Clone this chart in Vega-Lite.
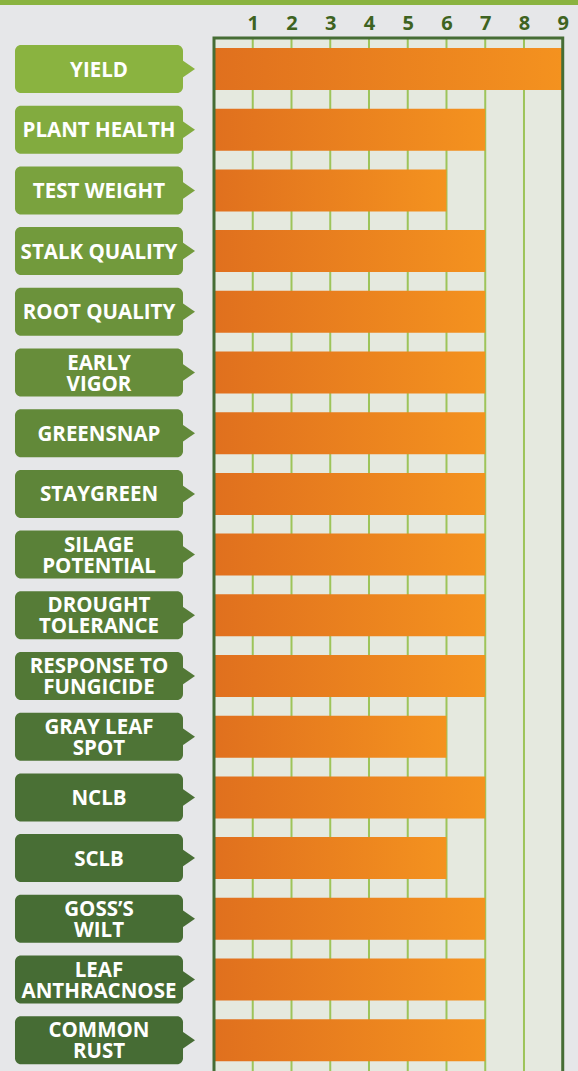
{
  "$schema": "https://vega.github.io/schema/vega-lite/v6.json",
  "background": "#e6e7e9",
  "padding": 0,
  "config": {"view": {"stroke": null}},
  "spacing": 33,
  "bounds": "flush",
  "resolve": {"scale": {"x": "independent", "y": "independent", "color": "independent"}},
  "vconcat": [
    {
      "width": 578,
      "height": 5,
      "data": {"values": [{}]},
      "mark": {"type": "rect", "color": "#8ab340"},
      "encoding": {
        "x": {"datum": 0, "type": "quantitative", "scale": {"domain": [0, 1], "nice": false, "zero": false}, "axis": null},
        "x2": {"datum": 1},
        "y": {"datum": 0, "type": "quantitative", "scale": {"domain": [0, 1], "nice": false, "zero": false}, "axis": null},
        "y2": {"datum": 1}
      }
    },
    {
      "width": 578,
      "height": 1040,
      "data": {
        "values": [
          {"label": "YIELD", "text": "YIELD", "value": 9},
          {"label": "PLANT HEALTH", "text": "PLANT HEALTH", "value": 7},
          {"label": "TEST WEIGHT", "text": "TEST WEIGHT", "value": 6},
          {"label": "STALK QUALITY", "text": "STALK QUALITY", "value": 7},
          {"label": "ROOT QUALITY", "text": "ROOT QUALITY", "value": 7},
          {"label": "EARLY VIGOR", "text": "EARLY\nVIGOR", "value": 7},
          {"label": "GREENSNAP", "text": "GREENSNAP", "value": 7},
          {"label": "STAYGREEN", "text": "STAYGREEN", "value": 7},
          {"label": "SILAGE POTENTIAL", "text": "SILAGE\nPOTENTIAL", "value": 7},
          {"label": "DROUGHT TOLERANCE", "text": "DROUGHT\nTOLERANCE", "value": 7},
          {"label": "RESPONSE TO FUNGICIDE", "text": "RESPONSE TO\nFUNGICIDE", "value": 7},
          {"label": "GRAY LEAF SPOT", "text": "GRAY LEAF\nSPOT", "value": 6},
          {"label": "NCLB", "text": "NCLB", "value": 7},
          {"label": "SCLB", "text": "SCLB", "value": 6},
          {"label": "GOSS’S WILT", "text": "GOSS’S\nWILT", "value": 7},
          {"label": "LEAF ANTHRACNOSE", "text": "LEAF\nANTHRACNOSE", "value": 7},
          {"label": "COMMON RUST", "text": "COMMON\nRUST", "value": 7}
        ]
      },
      "layer": [
        {
          "data": {"values": [{}]},
          "mark": {"type": "rect", "color": "#e5e9df"},
          "encoding": {
            "x": {
              "datum": 0, "type": "quantitative",
              "scale": {"domain": [-5.523, 9.394], "nice": false, "zero": false},
              "axis": {
                "orient": "top", "values": [1, 2, 3, 4, 5, 6, 7, 8, 9], "title": null,
                "domain": false, "ticks": false, "grid": false,
                "labelFont": "Open Sans", "labelFontWeight": "bold", "labelFontSize": 20,
                "labelColor": "#3e6321", "labelBaseline": "alphabetic", "labelPadding": 9,
                "labelOverlap": false, "labelFlush": false
              }
            },
            "x2": {"datum": 9}
          }
        },
        {
          "data": {"values": [{"tick": 1}, {"tick": 2}, {"tick": 3}, {"tick": 4}, {"tick": 5}, {"tick": 6}, {"tick": 7}, {"tick": 8}]},
          "mark": {"type": "rule", "color": "#9dc45a", "strokeWidth": 2},
          "encoding": {"x": {"field": "tick", "type": "quantitative", "title": null}}
        },
        {
          "mark": {
            "type": "bar", "height": {"band": 0.875},
            "color": {"gradient": "linear", "x1": 0, "x2": 1, "y1": 0, "y2": 0,
              "stops": [{"offset": 0, "color": "#e0701e"}, {"offset": 1, "color": "#f4921f"}]}
          },
          "encoding": {
            "y": {"field": "label", "type": "nominal", "sort": null, "axis": null,
              "scale": {"type": "band", "paddingInner": 0.2092, "paddingOuter": 0.1713, "align": 0.337}},
            "x": {"field": "value", "type": "quantitative", "title": null},
            "x2": {"datum": 0}
          }
        },
        {
          "mark": {"type": "bar", "cornerRadius": 6},
          "encoding": {
            "y": {"field": "label", "type": "nominal", "sort": null, "axis": null},
            "x": {"datum": -5.136, "type": "quantitative", "title": null},
            "x2": {"datum": -0.8},
            "color": {
              "field": "label", "type": "nominal", "legend": null,
              "scale": {
                "domain": ["YIELD", "PLANT HEALTH", "TEST WEIGHT", "STALK QUALITY", "ROOT QUALITY", "EARLY VIGOR", "GREENSNAP", "STAYGREEN", "SILAGE POTENTIAL", "DROUGHT TOLERANCE", "RESPONSE TO FUNGICIDE", "GRAY LEAF SPOT", "NCLB", "SCLB", "GOSS’S WILT", "LEAF ANTHRACNOSE", "COMMON RUST"],
                "range": ["#8ab340", "#82ab3f", "#7aa23e", "#729a3c", "#6b923b", "#678d3a", "#628939", "#5e8539", "#5a8138", "#567c37", "#527836", "#4e7436", "#4a7035", "#486e35", "#476d34", "#466c34", "#466c34"]
              }
            }
          }
        },
        {
          "mark": {"type": "point", "filled": true, "opacity": 1, "shape": "M-0.722,-1L0.722,0L-0.722,1Z", "size": 324},
          "encoding": {
            "y": {"field": "label", "type": "nominal", "sort": null, "axis": null},
            "x": {"datum": -0.658, "type": "quantitative", "title": null},
            "color": {"field": "label", "type": "nominal", "legend": null}
          }
        },
        {
          "transform": [{"filter": "indexof(datum.text, '\\n') < 0"}],
          "mark": {"type": "text", "color": "#ffffff", "font": "Open Sans", "fontWeight": "bold", "fontSize": 20.5, "lineHeight": 21, "align": "center", "baseline": "middle", "lineBreak": "\n", "dy": 1.5},
          "encoding": {
            "y": {"field": "label", "type": "nominal", "sort": null, "axis": null},
            "x": {"datum": -2.968, "type": "quantitative", "title": null},
            "text": {"field": "text"}
          }
        },
        {
          "transform": [{"filter": "indexof(datum.text, '\\n') >= 0"}],
          "mark": {"type": "text", "color": "#ffffff", "font": "Open Sans", "fontWeight": "bold", "fontSize": 20.5, "lineHeight": 21, "align": "center", "baseline": "middle", "lineBreak": "\n", "dy": -9},
          "encoding": {
            "y": {"field": "label", "type": "nominal", "sort": null, "axis": null},
            "x": {"datum": -2.968, "type": "quantitative", "title": null},
            "text": {"field": "text"}
          }
        },
        {
          "data": {"values": [{}]},
          "mark": {"type": "rect", "fillOpacity": 0, "stroke": "#466d35", "strokeWidth": 3},
          "encoding": {
            "x": {"datum": 0, "type": "quantitative", "title": null},
            "x2": {"datum": 9}
          }
        }
      ]
    }
  ]
}
